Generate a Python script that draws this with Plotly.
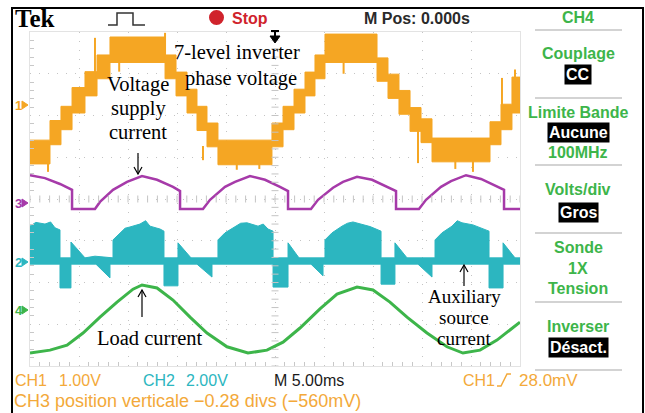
import plotly.graph_objects as go

# time in ms (5 ms/div, M Pos 0 at screen centre), amplitude in divisions from screen centre

# CH1 (orange) - 7-level inverter phase voltage, one entry per step: start time, band top, band bottom
ch1_t = [-25.0, -22.96, -21.84, -20.71, -19.39, -18.16, -16.84, -11.22, -10.10, -8.98, -7.96, -6.94, -5.82,
         -0.31, 0.82, 1.94, 3.06, 4.08, 5.10, 10.41, 11.53, 12.65, 13.78, 14.90, 16.02, 21.94, 23.06, 24.18]
ch1_hi = [1.41, 1.88, 2.22, 2.67, 3.05, 3.45, 3.88, 3.45, 3.04, 2.63, 2.22, 1.82, 1.41,
          1.82, 2.22, 2.63, 3.04, 3.45, 3.95, 3.38, 2.99, 2.60, 2.19, 1.92, 1.46, 1.85, 2.27, 2.92]
ch1_lo = [0.84, 1.30, 1.66, 2.06, 2.47, 2.88, 3.27, 2.88, 2.47, 2.06, 1.64, 1.25, 0.82,
          1.25, 1.66, 2.06, 2.47, 2.88, 3.27, 2.82, 2.41, 2.03, 1.62, 1.35, 0.89, 1.30, 1.66, 2.06]
# CH1 glitches: time, from, to
ch1_sp_t = [-23.16, -18.37, -11.22, -7.35, -1.6, 14.59, 20.20, 23.16, 24.49, 7.0, -15.9, -3.9, 18.4]
ch1_sp_a = [0.86, 2.90, 3.31, 1.27, 0.86, 1.64, 0.91, 2.25, 2.90, 3.31, 3.31, 0.86, 0.91]
ch1_sp_b = [0.65, 3.86, 3.98, 0.93, 0.72, 0.86, 0.65, 2.90, 3.10, 3.00, 3.05, 0.70, 0.72]

# CH3 (purple) - voltage supply current
ch3_t = [-25.0, -23.47, -21.94, -20.71, -20.71, -18.37, -17.86, -16.53, -15.10, -13.57, -12.04, -10.41, -9.69, -9.69,
         -7.35, -6.63, -5.10, -4.08, -2.55, -1.02, 0.51, 1.33, 1.33, 3.67, 4.39, 5.92, 6.94, 8.37, 9.90, 11.53,
         12.35, 12.35, 14.69, 15.41, 16.94, 17.96, 19.49, 21.02, 22.65, 23.37, 23.37, 25.0]
ch3_y = [0.57, 0.50, 0.36, 0.22, -0.24, -0.24, -0.07, 0.22, 0.41, 0.55, 0.46, 0.29, 0.19, -0.24,
         -0.24, -0.02, 0.29, 0.41, 0.55, 0.46, 0.29, 0.19, -0.24, -0.24, -0.02, 0.27, 0.41, 0.53, 0.46, 0.29,
         0.19, -0.24, -0.24, -0.02, 0.29, 0.43, 0.57, 0.48, 0.31, 0.22, -0.24, -0.24]

# CH2 (cyan) - auxiliary source current, upper and lower envelope of the trace
ch2_up_t = [-25.0, -24.4, -23.47, -22.9, -22.45, -21.94, -21.94, -20.82, -20.82, -19.39, -18.37, -16.53,
            -16.53, -15.82, -15.3, -14.80, -13.78, -13.2, -12.76, -11.73, -11.33, -11.33, -9.90, -9.90, -8.57, -5.82,
            -5.82, -5.10, -4.08, -3.5, -2.86, -1.73, -1.2, -0.71, -0.20, -0.20, 1.33, 1.33, 2.45, 5.10,
            5.10, 5.82, 6.84, 7.4, 7.96, 9.18, 9.7, 10.31, 10.82, 10.82, 12.24, 12.24, 13.47, 16.33,
            16.33, 17.04, 18.06, 18.6, 19.08, 20.20, 20.8, 21.33, 21.84, 21.84, 23.27, 23.27, 24.49, 25.0]
ch2_up_y = [-0.65, -0.56, -0.60, -0.55, -0.69, -0.74, -1.41, -1.41, -1.03, -1.41, -1.37, -1.41,
            -0.98, -0.81, -0.70, -0.67, -0.60, -0.52, -0.65, -0.72, -0.77, -1.41, -1.41, -1.05, -1.41, -1.41,
            -0.98, -0.81, -0.67, -0.58, -0.57, -0.65, -0.60, -0.72, -0.77, -1.41, -1.41, -1.05, -1.41, -1.41,
            -0.98, -0.81, -0.65, -0.58, -0.55, -0.62, -0.66, -0.72, -0.77, -1.41, -1.41, -1.05, -1.41, -1.41,
            -0.98, -0.81, -0.65, -0.52, -0.57, -0.62, -0.68, -0.72, -0.77, -1.41, -1.41, -1.05, -1.41, -1.41]
ch2_lo_t = [-25.0, -21.94, -21.94, -20.82, -20.82, -18.27, -16.84, -16.84, -11.33, -11.33, -9.90, -9.90,
            -7.96, -6.43, -6.43, -0.20, -0.20, 1.33, 1.33, 3.67, 4.90, 4.90, 10.82, 10.82, 12.24, 12.24,
            14.59, 16.02, 16.02, 21.84, 21.84, 23.27, 23.27, 25.0]
ch2_lo_y = [-1.56, -1.56, -2.13, -2.13, -1.56, -1.56, -1.89, -1.56, -1.56, -2.08, -2.08, -1.56,
            -1.56, -1.87, -1.56, -1.56, -2.11, -2.11, -1.56, -1.56, -1.84, -1.56, -1.56, -2.04, -2.04, -1.56,
            -1.56, -1.87, -1.56, -1.56, -2.13, -2.13, -1.56, -1.56]

# CH4 (green) - load current
ch4_t = [-25.0, -22.96, -21.22, -19.59, -17.86, -16.12, -14.49, -13.57, -12.04, -10.41, -8.67, -6.94, -4.90,
         -2.76, -0.82, 0.82, 2.55, 4.59, 6.33, 8.37, 10.0, 11.73, 13.47, 15.51, 17.55, 19.18, 20.92, 22.65, 25.0]
ch4_y = [-3.69, -3.62, -3.50, -3.21, -2.83, -2.47, -2.16, -2.06, -2.13, -2.42, -2.83, -3.21, -3.54,
         -3.69, -3.62, -3.43, -3.09, -2.63, -2.28, -2.11, -2.18, -2.47, -2.83, -3.21, -3.54, -3.69, -3.62, -3.38, -2.95]

ORANGE = '#f5a623'
PURPLE = '#a63aa9'
CYAN = '#2cb6c0'
GREEN = '#3db54a'
TXT_OR = '#f3a93a'

# graticule edges in page pixels, used to place the screen furniture
W, H = 645, 413
GL, GR, GT, GB = 30, 520, 32, 366


def px(x):
    return (x - GL) / (GR - GL)


def py(y):
    return (GB - y) / (GB - GT)


fig = go.Figure()

# CH1 stepped band
top, bot = [], []
for i, t0 in enumerate(ch1_t):
    t1 = ch1_t[i + 1] if i + 1 < len(ch1_t) else 25.0
    top += [(t0, ch1_hi[i]), (t1, ch1_hi[i])]
    bot += [(t0, ch1_lo[i]), (t1, ch1_lo[i])]
poly = top + bot[::-1]
fig.add_trace(go.Scatter(x=[p[0] for p in poly], y=[p[1] for p in poly], fill='toself', fillcolor=ORANGE,
                         mode='lines', line=dict(color=ORANGE, width=1), hoverinfo='skip'))
sx, sy = [], []
for t, a, b in zip(ch1_sp_t, ch1_sp_a, ch1_sp_b):
    sx += [t, t, None]
    sy += [a, b, None]
fig.add_trace(go.Scatter(x=sx, y=sy, mode='lines', line=dict(color=ORANGE, width=2), hoverinfo='skip'))

# CH3
fig.add_trace(go.Scatter(x=ch3_t, y=ch3_y, mode='lines', line=dict(color=PURPLE, width=2.5), hoverinfo='skip'))

# CH2 band
fig.add_trace(go.Scatter(x=ch2_up_t + ch2_lo_t[::-1], y=ch2_up_y + ch2_lo_y[::-1], fill='toself',
                         fillcolor=CYAN, mode='lines', line=dict(color=CYAN, width=1), hoverinfo='skip'))

# CH4
fig.add_trace(go.Scatter(x=ch4_t, y=ch4_y, mode='lines', line=dict(color=GREEN, width=3), hoverinfo='skip'))

# centre-line ticks of the graticule
fig.add_trace(go.Scatter(x=[i for i in range(-25, 26)], y=[0] * 51, mode='markers',
                         marker=dict(symbol='line-ns', size=5, line=dict(color='#c4c4c4', width=1)), hoverinfo='skip'))
fig.add_trace(go.Scatter(x=[0] * 41, y=[i / 5 for i in range(-20, 21)], mode='markers',
                         marker=dict(symbol='line-ew', size=5, line=dict(color='#c4c4c4', width=1)), hoverinfo='skip'))

fig.update_xaxes(range=[-25, 25], tick0=-25, dtick=5, showticklabels=False, zeroline=False,
                 showgrid=True, gridcolor='#c4c4c4', griddash='1px,8px', gridwidth=1,
                 showline=True, linecolor='#e3e3e3', mirror=True, ticks='inside', ticklen=0,
                 minor=dict(dtick=1, ticks='inside', ticklen=4, tickcolor='#c8c8c8', showgrid=False))
fig.update_yaxes(range=[-4, 4], tick0=-4, dtick=1, showticklabels=False, zeroline=False,
                 showgrid=True, gridcolor='#c4c4c4', griddash='1px,8px', gridwidth=1,
                 showline=True, linecolor='#e3e3e3', mirror=True, ticks='inside', ticklen=0,
                 minor=dict(dtick=0.2, ticks='inside', ticklen=4, tickcolor='#c8c8c8', showgrid=False))

ann = []


def label(text, x, y, color='black', size=16, family='Liberation Sans', weight='normal', xa='center', bg=None):
    d = dict(text=text, x=px(x), y=py(y), xref='paper', yref='paper', showarrow=False, xanchor=xa,
             yanchor='middle', font=dict(family=family, size=size, color=color, weight=weight))
    if bg:
        d.update(bgcolor=bg, borderpad=1)
    ann.append(d)


# header
label('Tek', 13, 18, size=25, family='Liberation Serif', weight='bold', xa='left')
label('Stop', 230, 18, color='#d0232c', weight='bold', xa='left')
label('M Pos: 0.000s', 417, 18, color='#2a2a2a', weight='bold')
label('CH4', 578, 17, color=GREEN, weight='bold')

# side menu
for txt, yy in [('Couplage', 54), ('Limite Bande', 112), ('100MHz', 152), ('Volts/div', 190),
                ('Sonde', 247), ('1X', 268), ('Tension', 288), ('Inverser', 326)]:
    label(txt, 578, yy, color=GREEN, weight='bold')
for txt, yy in [('CC', 74), ('Aucune', 132), ('Gros', 212), ('Désact.', 347)]:
    label(txt, 578, yy, color='white', weight='bold', bg='black')

# bottom status lines
label('CH1', 13, 380, color=TXT_OR, xa='left')
label('1.00V', 57, 380, color=TXT_OR, xa='left')
label('CH2', 141, 380, color=CYAN, xa='left')
label('2.00V', 184, 380, color=CYAN, xa='left')
label('M 5.00ms', 272, 380, color='#1a1a1a', xa='left')
label('CH1', 461, 380, color=TXT_OR, xa='left')
label('28.0mV', 517, 380, color=TXT_OR, size=17, xa='left')
label('CH3 position verticale \u22120.28 divs (\u2212560mV)', 12, 401, color=TXT_OR, size=18, xa='left')

# channel ground markers
for txt, yy, c in [('1', 105, ORANGE), ('3', 203, PURPLE), ('2', 262, CYAN), ('4', 310, GREEN)]:
    label(txt, 13, yy, color=c, size=13, weight='bold', xa='left')

# figure callouts
serif = 'Liberation Serif'
label('7-level inverter', 237, 52, size=20.5, family=serif)
label('phase voltage', 241, 78, size=20.5, family=serif)
label('Voltage', 138, 84, size=20.5, family=serif)
label('supply', 138, 108, size=20.5, family=serif)
label('current', 138, 132, size=20.5, family=serif)
label('Load current', 150, 338, size=20.5, family=serif)
label('Auxiliary', 464, 296, size=19, family=serif)
label('source', 464, 317, size=19, family=serif)
label('current', 464, 338, size=19, family=serif)

shapes = []


def seg(x0, y0, x1, y1, color='black', width=1.2):
    shapes.append(dict(type='line', xref='paper', yref='paper', x0=px(x0), y0=py(y0), x1=px(x1), y1=py(y1),
                       line=dict(color=color, width=width)))


def path(pts, color='black', fill=None, width=1.2):
    d = 'M' + ' L'.join(f'{px(a):.5f},{py(b):.5f}' for a, b in pts)
    if fill:
        d += ' Z'
    shapes.append(dict(type='path', xref='paper', yref='paper', path=d, line=dict(color=color, width=width),
                       fillcolor=fill))


def arrow(x, ytail, yhead):
    s = 1 if yhead > ytail else -1
    seg(x, ytail, x, yhead)
    path([(x - 4, yhead - 7 * s), (x, yhead), (x + 4, yhead - 7 * s)])


arrow(138, 153, 174)
arrow(142, 317, 290)
arrow(464, 286, 265)

# outer frame
shapes.append(dict(type='rect', xref='paper', yref='paper', x0=px(12), x1=px(643), y0=py(430), y1=py(8),
                   line=dict(color='black', width=2)))
# side menu separators
for yy in [30, 98, 165, 233, 302, 370]:
    seg(535, yy, 622, yy, color='#c4c4c4', width=1.5)

# trigger position marker
seg(275, 31, 275, 37, width=2)
seg(271, 31, 279, 31, width=2)
path([(270, 36), (280, 36), (275, 43)], fill='black', width=1)
# acquisition icon
path([(108, 25), (117, 25), (117, 13), (133, 13), (133, 25), (145, 25)], color='#333333', width=1.5)
# run/stop dot
shapes.append(dict(type='circle', xref='paper', yref='paper', x0=px(209), x1=px(224), y0=py(25), y1=py(10),
                   fillcolor='#d0232c', line=dict(width=0)))
# trigger slope symbol
path([(497, 386), (501, 386), (507, 374), (511, 374)], color=TXT_OR, width=1.5)
# ground marker arrowheads
for yy, c in [(105, ORANGE), (203, PURPLE), (262, CYAN), (310, GREEN)]:
    path([(22, yy - 4), (28, yy), (22, yy + 4)], color=c, fill=c, width=1)

fig.update_layout(width=W, height=H, margin=dict(l=GL, r=W - GR, t=GT, b=H - GB),
                  plot_bgcolor='white', paper_bgcolor='white', showlegend=False,
                  annotations=ann, shapes=shapes)

fig.write_html("out.html", config={'displayModeBar': False},
               post_script="document.body.style.margin='0px';")
